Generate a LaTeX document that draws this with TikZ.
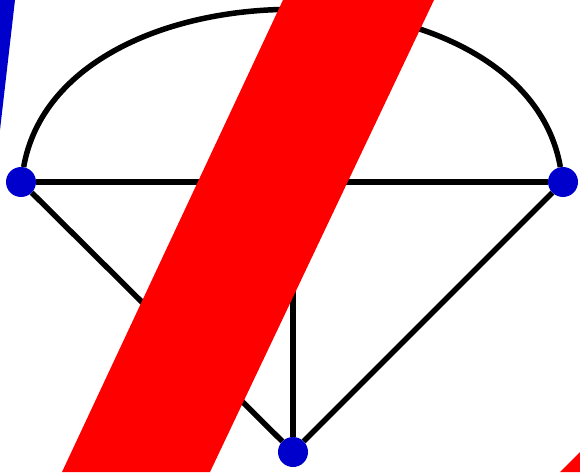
\documentclass[tikz,border=0pt]{standalone}
\usetikzlibrary{positioning}
\definecolor{dotblue}{RGB}{0,0,204}
\definecolor{barred}{RGB}{255,0,0}

\begin{document}
\begin{tikzpicture}[x=1pt, y=1pt,
                vertex/.style={circle, fill=dotblue, minimum size=30pt, inner sep=0pt},
                edge/.style={line width=5.5pt, black}
            ]
                \useasboundingbox (0,0) rectangle (580,472);

                % Nodes
                \node (left) [vertex] at (21,290) {};
                \node (right) [vertex] at (563,290) {};
                \node (bottom) [vertex] at (293,20) {};
                \coordinate (mid) at (bottom |- left);

                % Edges
                \draw [edge] (left) -- (right);
                \draw [edge] (left) -- (bottom);
                \draw [edge] (right) -- (bottom);
                \draw [edge] (bottom) -- (mid);
                \draw [edge] (left) to[out=80, in=100, looseness=1.02] (right);

                % Strokes on top
                \fill [barred] (62,0) -- (210,0) -- (434,472) -- (283,472) -- cycle;
                \fill [barred] (560,0) -- (580,0) -- (580,20) -- cycle;
                \fill [dotblue] (0,472) -- (15,472) -- (0,342) -- cycle;
            \end{tikzpicture}
\end{document}
